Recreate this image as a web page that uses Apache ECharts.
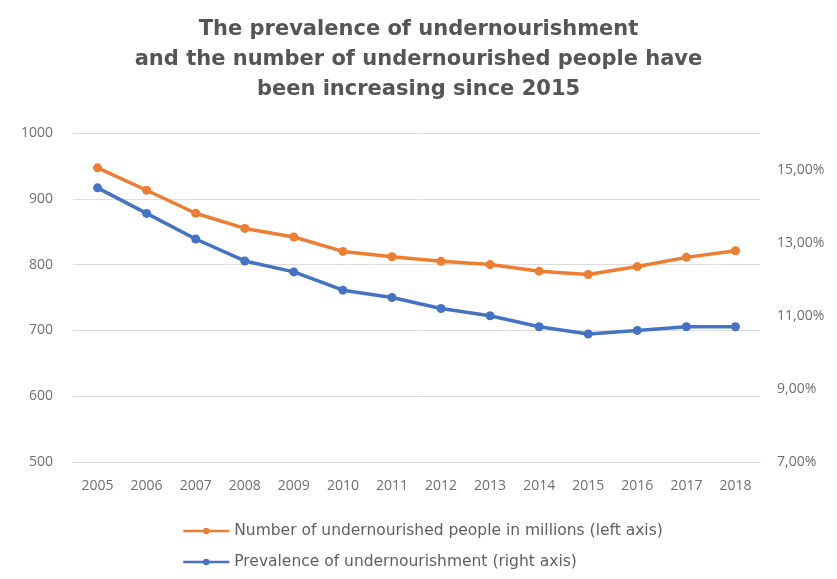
<!DOCTYPE html>
<html>
<head>
<meta charset="utf-8">
<title>Undernourishment 2005-2018</title>
<script src="https://cdn.jsdelivr.net/npm/echarts@6/dist/echarts.min.js"></script>
<style>
  html, body { margin: 0; padding: 0; background: #ffffff; }
  #chart { width: 837px; height: 579px; }
</style>
</head>
<body>
<div id="chart"></div>
<script>
// Years on the horizontal axis
var years = ['2005', '2006', '2007', '2008', '2009', '2010', '2011',
             '2012', '2013', '2014', '2015', '2016', '2017', '2018'];

// Number of undernourished people, millions (left axis)
var undernourishedMillions = [947, 913, 878, 855, 842, 820, 812,
                              805, 800, 790, 785, 797, 811, 821];

// Prevalence of undernourishment, percent (right axis)
var prevalencePct = [14.5, 13.8, 13.1, 12.5, 12.2, 11.7, 11.5,
                     11.2, 11.0, 10.7, 10.5, 10.6, 10.7, 10.7];

// Axis ranges
var leftMin = 500, leftMax = 1000, leftStep = 100;
var rightMin = 7, rightMax = 16, rightStep = 1;

var titleText = 'The prevalence of undernourishment\n' +
                'and the number of undernourished people have\n' +
                'been increasing since 2015';
var seriesNames = ['Number of undernourished people in millions (left axis)',
                   'Prevalence of undernourishment (right axis)'];

var axisFont = '"Open Sans", "Noto Sans", sans-serif';

// Shared legend look; one legend per row
function legendRow(name, top) {
  return {
    orient: 'horizontal',
    left: 182,
    top: top,
    padding: 0,
    itemWidth: 46,
    itemHeight: 8,
    lineStyle: { width: 2.5 },
    textStyle: {
      fontFamily: '"DejaVu Sans", "Noto Sans", sans-serif',
      fontSize: 15.5,
      color: '#5f5f5f'
    },
    data: [name]
  };
}

var chart = echarts.init(document.getElementById('chart'), null, { renderer: 'canvas' });

chart.setOption({
  animation: false,
  backgroundColor: '#ffffff',
  title: {
    text: titleText,
    left: 'center',
    top: 10,
    textStyle: {
      fontFamily: '"DejaVu Sans", "Noto Sans", sans-serif',
      fontWeight: 'bold',
      fontSize: 21,
      lineHeight: 30,
      color: '#555555'
    }
  },
  legend: [
    legendRow(seriesNames[0], 523),
    legendRow(seriesNames[1], 554)
  ],
  grid: {
    left: 73,
    right: 77,
    top: 133,
    bottom: 117,
    containLabel: false
  },
  xAxis: {
    type: 'category',
    data: years,
    boundaryGap: true,
    axisLine: { show: true, lineStyle: { color: '#d9d9d9', width: 1 } },
    axisTick: { show: false },
    axisLabel: {
      margin: 17,
      fontFamily: axisFont,
      fontSize: 14,
      color: '#6f6f6f'
    }
  },
  yAxis: [
    {
      type: 'value',
      position: 'left',
      min: leftMin,
      max: leftMax,
      interval: leftStep,
      axisLine: { show: false },
      axisTick: { show: false },
      splitLine: { show: true, lineStyle: { color: '#dcdcdc', width: 1 } },
      axisLabel: {
        margin: 20,
        fontFamily: axisFont,
        fontSize: 14,
        color: '#6f6f6f',
        formatter: function (v) { return String(v); }
      }
    },
    {
      type: 'value',
      position: 'right',
      min: rightMin,
      max: rightMax,
      interval: rightStep,
      axisLine: { show: false },
      axisTick: { show: false },
      splitLine: { show: false },
      axisLabel: {
        margin: 17,
        fontFamily: axisFont,
        fontSize: 14,
        color: '#6f6f6f',
        // labels every two percentage points, starting at 7%
        formatter: function (v) {
          if (Math.round(v) % 2 !== 1) return '';
          return v.toFixed(2).replace('.', ',') + '%';
        }
      }
    }
  ],
  series: [
    {
      name: seriesNames[0],
      type: 'line',
      yAxisIndex: 0,
      data: undernourishedMillions,
      symbol: 'circle',
      symbolSize: 9,
      showSymbol: true,
      color: '#ED7D31',
      lineStyle: { width: 3.5, color: '#ED7D31' },
      itemStyle: { color: '#ED7D31' }
    },
    {
      name: seriesNames[1],
      type: 'line',
      yAxisIndex: 1,
      data: prevalencePct,
      symbol: 'circle',
      symbolSize: 9,
      showSymbol: true,
      color: '#4472C4',
      lineStyle: { width: 3.5, color: '#4472C4' },
      itemStyle: { color: '#4472C4' }
    }
  ]
});
</script>
</body>
</html>
